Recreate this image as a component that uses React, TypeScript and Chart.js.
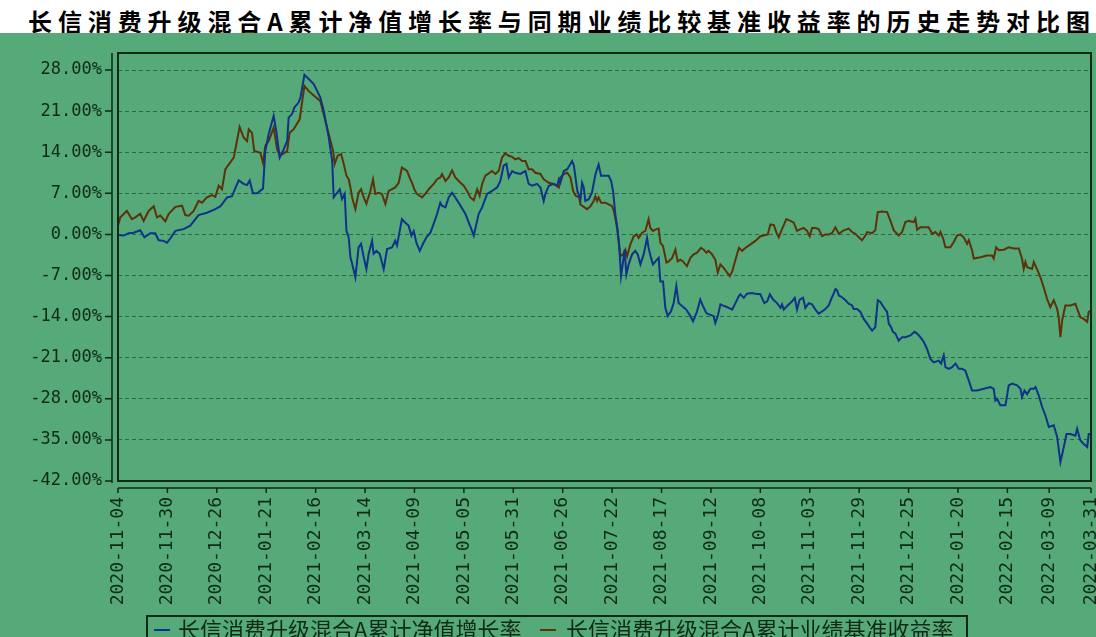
import React, { useEffect, useRef } from "react";
import { Chart, registerables } from "chart.js";

Chart.register(...registerables);

// ---------- text ----------
const chartTitle = "长信消费升级混合A累计净值增长率与同期业绩比较基准收益率的历史走势对比图";
const seriesNames = ["长信消费升级混合A累计净值增长率", "长信消费升级混合A累计业绩基准收益率"];

// ---------- axes ----------
const START_DATE = "2020-11-04";
const tickDates = [
  "2020-11-04", "2020-11-30", "2020-12-26", "2021-01-21", "2021-02-16", "2021-03-14",
  "2021-04-09", "2021-05-05", "2021-05-31", "2021-06-26", "2021-07-22", "2021-08-17",
  "2021-09-12", "2021-10-08", "2021-11-03", "2021-11-29", "2021-12-25", "2022-01-20",
  "2022-02-15", "2022-03-09", "2022-03-31",
];
const yTicks = [28, 21, 14, 7, 0, -7, -14, -21, -28, -35, -42];
const Y_MIN = -42;
const Y_MAX = 30.9;

// ---------- data (x = calendar days since START_DATE, y = %) ----------
const fundDays = [
  0, 3, 5.6, 8.2, 11.7, 13.9, 17, 19.6, 21.4, 24, 25.8, 27.5, 30.2, 34.5, 38, 42.4, 46.8, 51.2, 53.9, 57.4,
  60, 63.5, 66.1, 67.9, 69.3, 71, 73.2, 76.3, 77.5, 79.3, 81.9, 83.3, 85.1, 86.8, 89, 89.8, 91.6, 92.8, 95.1, 96,
  98.1, 103, 106.5, 108.3, 110.9, 112.7, 113.5, 115.3, 116.7, 117.9, 119.3, 120.2, 121.4, 122.3, 123.2, 124.9, 126.6, 127.9, 129.3, 130.7,
  131.9, 133.7, 134.5, 136, 137.7, 139.8, 141.6, 144.2, 145.9, 146.8, 149.4, 151.2, 152.9, 154.4, 155.6, 157, 158.8, 160.5, 162.3, 164.4,
  166.1, 167.9, 169.6, 170.5, 172.3, 174, 175.8, 177.5, 180.2, 182.8, 184.6, 186.3, 187.2, 188.6, 189.8, 191.6, 194.2, 196.8, 199.5, 201.2,
  202.9, 204.4, 205.6, 207.4, 209.1, 211.7, 214.4, 216.1, 217.9, 220.5, 222.3, 224, 224.9, 226.7, 229.3, 231.1, 232, 232.8, 234.6, 236.4,
  239, 239.9, 241.7, 243.4, 244.2, 245.1, 245.9, 247.7, 249.4, 251.2, 252.9, 254.2, 256.5, 258.2, 259.5, 260.5, 261.7, 263, 264, 264.7,
  265.8, 266.6, 267.5, 268.7, 270.5, 272.2, 273.5, 274.9, 276.6, 278.4, 279.2, 280.5, 281.5, 282.8, 284.5, 285.4, 286.8, 288, 289.3, 291,
  292.4, 293.8, 295, 296.8, 299, 300.8, 302.6, 304.7, 306.4, 307.8, 309.6, 311.7, 313.4, 314.3, 315.6, 317, 319.1, 321.4, 323.2, 324.9,
  326.7, 327.5, 329.3, 331, 333.6, 335.4, 338, 340.1, 341.6, 343, 344.7, 346.8, 348.6, 349.4, 350.3, 352.1, 354.7, 356.1, 357.3, 358.7,
  360.5, 361.7, 363.5, 365.2, 367, 368.7, 370.5, 372.2, 374, 375.7, 376.6, 377.5, 378.4, 379.3, 381, 382.8, 384.5, 386.3, 387.1, 388.9,
  390.7, 392.4, 394.2, 396.8, 398.5, 399.8, 401.2, 402.9, 404.7, 405.6, 406.8, 407.8, 409.1, 410.8, 412.6, 414.3, 417, 419.1, 420.5, 422.2,
  424, 425.7, 427.5, 429.2, 431.9, 433.1, 434.5, 435.4, 437.1, 438.9, 440.7, 442.4, 444.2, 445.9, 447.7, 449.4, 452, 455.6, 459.1, 460.8,
  461.7, 462.6, 464.3, 467, 468.7, 470.5, 473.1, 474.9, 475.7, 477, 478.4, 480.1, 481.9, 482.8, 484.5, 486.3, 488, 489.8, 492.4, 494.2,
  495.9, 497.7, 499.1, 501.2, 503.8, 504.7, 506.4, 508.2, 510, 510.8, 512,
];
const fundValues = [
  -0.1, -0.2, 0.2, 0.3, 0.7, -0.5, 0.2, 0.2, -1.0, -1.1, -1.4, -0.7, 0.6, 0.9, 1.5, 3.3, 3.7, 4.3, 4.8, 6.3,
  6.5, 9.2, 8.6, 8.4, 9.2, 7.0, 7.0, 7.8, 14.2, 17.1, 20.2, 17.6, 13.1, 14.2, 15.9, 19.9, 20.5, 21.6, 22.5, 23.3,
  27.2, 25.6, 23.3, 21.0, 16.5, 12.5, 6.3, 7.1, 7.7, 6.0, 6.9, 0.6, -0.5, -3.9, -5.0, -7.3, -2.2, -1.6, -3.9, -5.9,
  -3.3, -1.1, -3.3, -2.8, -3.3, -5.9, -2.5, -2.2, -1.1, -1.9, 2.6, 2.0, 1.5, -0.2, 0.6, -1.4, -2.8, -1.6, -0.5, 0.3,
  1.8, 3.5, 5.4, 4.9, 4.6, 6.3, 7.1, 6.3, 4.9, 3.5, 2.0, 0.6, -0.2, 1.8, 3.5, 4.6, 6.9, 7.4, 8.0, 9.1,
  11.7, 12.0, 9.7, 10.8, 10.5, 10.3, 10.8, 8.6, 8.3, 8.6, 8.0, 5.7, 6.9, 8.3, 8.6, 8.3, 9.4, 8.8, 10.8, 11.1,
  12.5, 11.7, 7.4, 6.0, 8.8, 8.0, 5.7, 6.0, 7.1, 10.2, 11.9, 10.0, 10.0, 10.0, 9.1, 7.4, 3.4, 0.6, -3.4, -7.1,
  -4.6, -2.6, -6.8, -5.1, -3.4, -2.8, -3.4, -5.1, -3.4, -0.6, -2.3, -4.0, -5.1, -4.6, -4.0, -8.0, -8.0, -12.5, -13.9, -13.1,
  -11.7, -8.8, -11.7, -12.2, -12.8, -13.7, -14.8, -13.1, -11.1, -12.2, -13.4, -13.7, -13.9, -15.1, -13.9, -11.9, -12.2, -12.5, -12.8, -11.7,
  -10.5, -10.2, -10.8, -10.1, -10.0, -10.1, -10.2, -11.7, -11.4, -10.2, -11.1, -11.7, -12.5, -11.9, -12.8, -12.2, -11.4, -10.8, -12.8, -11.1,
  -10.8, -12.5, -11.7, -11.9, -12.8, -13.5, -13.1, -12.7, -12.1, -10.7, -10.1, -9.3, -9.5, -10.4, -10.7, -11.2, -11.8, -12.1, -12.7, -12.7,
  -13.2, -14.4, -15.2, -16.4, -15.8, -11.2, -11.5, -12.4, -13.2, -15.2, -15.8, -16.6, -16.9, -18.1, -17.5, -17.5, -17.2, -16.6, -16.9, -17.5,
  -18.3, -19.5, -21.2, -21.8, -21.5, -22.0, -20.6, -22.6, -22.9, -22.6, -22.0, -22.9, -22.9, -23.2, -24.9, -26.6, -26.6, -26.3, -26.0, -26.3,
  -28.3, -28.0, -29.1, -29.1, -25.7, -25.4, -25.7, -26.3, -27.7, -26.6, -27.2, -26.3, -26.3, -26.0, -27.4, -29.4, -30.8, -32.8, -32.5, -34.5,
  -38.8, -36.2, -34.0, -34.0, -34.3, -33.1, -35.1, -35.7, -36.2, -34.0, -34.0,
];

const benchDays = [
  0, 1.2, 4.7, 7.3, 9.1, 11.7, 13.5, 16.1, 18.8, 20.5, 22.3, 24.9, 26.7, 30.2, 33.7, 35.4, 37.2, 39.8, 42.4, 44.2,
  46.8, 49.5, 51.2, 53, 54.7, 56.5, 60.9, 64, 66.1, 67.9, 68.8, 70.5, 71.7, 74.9, 76.3, 77.5, 79.3, 81.9, 83.7, 85.1,
  89, 90.3, 92.4, 95.6, 98.1, 100.4, 106.5, 110, 113.2, 114, 115.6, 117.4, 118.8, 120.2, 121.4, 122.3, 123.2, 124.9, 126.6, 127.9,
  129.3, 130.7, 132.8, 134.2, 135.4, 137.2, 138.9, 140.7, 142.4, 145.9, 147.7, 149.4, 152.1, 153.8, 154.7, 155.9, 157.3, 160, 161.7, 163.5,
  166.1, 167.9, 169.6, 170.5, 172.3, 174, 175.8, 177.5, 180.2, 181.9, 183.7, 185.4, 187.2, 189, 190.3, 191.6, 193.3, 195.1, 196.8, 198.6,
  200.3, 202.1, 203.8, 205.6, 207.4, 209.1, 210.9, 212.6, 214.4, 216.1, 217.9, 219.6, 222.3, 224, 226.7, 229.3, 232, 232.8, 234.6, 236.4,
  238.1, 239.5, 240.8, 242.6, 243.3, 245.1, 246.8, 248.6, 250.3, 251.2, 252.1, 252.9, 254.2, 256.5, 258.2, 260, 260.9, 262.3, 263.5, 264.4,
  265.8, 267, 267.9, 269.6, 271.4, 272.8, 274, 275.8, 277.5, 279.2, 280.1, 281.5, 283.3, 284.5, 285.4, 286.8, 288.6, 289.8, 291.6, 293.3,
  294.5, 295.9, 297.3, 299.4, 301.2, 302.9, 304.7, 306.8, 308.2, 309.6, 310.8, 312.6, 314.3, 315.6, 317, 318.7, 320.5, 321.9, 323.2, 324.9,
  326.7, 328.4, 330.1, 332.8, 335.4, 338, 340.7, 341.9, 343.3, 345.1, 346.5, 347.7, 349.4, 351.7, 353.8, 355.6, 357.3, 359.1, 360.8, 362.6,
  364, 365.2, 367, 368.7, 370.5, 372.2, 374, 375.7, 377.5, 379.3, 381.9, 384.5, 386.3, 388, 389.8, 391.5, 393.3, 394.2, 396.8, 398.5,
  399.8, 402.1, 404.7, 406.4, 408.2, 410.8, 412.6, 414.3, 416.1, 418.7, 419.6, 420.5, 422.2, 426.6, 428.4, 430.1, 431.9, 432.8, 434.2, 435.4,
  438, 439.8, 441.5, 443.3, 445, 446.8, 447.7, 449.4, 450.3, 453.8, 457.3, 459.9, 460.8, 462.1, 463.5, 466.1, 468.7, 471.4, 474, 475.7,
  476.6, 477.5, 478.4, 481, 481.9, 483.6, 485.4, 487.1, 488.9, 490.6, 492.4, 494.2, 495, 495.9, 496.8, 498.5, 501.2, 503.8, 504.7, 506.4,
  508.2, 510, 510.8, 512,
];
const benchValues = [
  1.5, 2.9, 4.0, 2.6, 2.9, 3.5, 2.3, 4.0, 4.8, 2.9, 3.2, 2.2, 3.5, 4.7, 4.9, 3.3, 3.2, 4.0, 5.7, 5.4,
  6.3, 6.7, 6.4, 8.3, 7.7, 11.1, 13.1, 18.3, 16.5, 15.9, 17.9, 17.3, 14.2, 13.9, 12.2, 15.1, 15.9, 18.2, 14.5, 13.4,
  14.2, 17.3, 17.9, 19.6, 25.3, 24.4, 22.7, 18.2, 14.2, 12.0, 13.4, 13.7, 12.0, 10.0, 9.4, 8.0, 6.3, 4.3, 7.1, 7.7,
  6.3, 5.2, 7.4, 9.4, 6.9, 7.1, 6.9, 5.2, 7.4, 8.0, 8.8, 11.4, 10.8, 9.4, 8.8, 7.7, 6.9, 6.3, 6.9, 7.7,
  8.6, 9.4, 9.7, 10.3, 9.1, 9.7, 10.9, 9.7, 8.8, 8.3, 7.4, 6.3, 5.8, 7.7, 6.6, 8.6, 10.0, 10.4, 10.8, 10.3,
  10.8, 13.1, 13.8, 13.4, 13.2, 12.8, 13.0, 12.5, 12.5, 11.1, 11.1, 10.5, 10.3, 9.4, 8.8, 8.6, 8.0, 9.7, 10.3, 10.5,
  9.7, 7.4, 6.6, 6.3, 5.1, 4.7, 4.3, 4.8, 5.7, 6.5, 5.7, 6.3, 5.4, 5.4, 5.1, 4.8, 4.0, 1.7, -1.1, -3.7,
  -3.4, -2.6, -3.7, -1.7, -0.3, 0, -0.6, 0.3, 0.6, 2.6, 1.1, 0.6, 0.9, 1.0, -1.4, -2.0, -4.8, -4.6, -4.0, -2.6,
  -4.6, -4.3, -4.6, -5.4, -4.0, -3.4, -3.1, -2.3, -2.6, -3.1, -2.8, -3.4, -4.3, -6.5, -5.1, -5.7, -6.5, -7.1, -6.3, -4.3,
  -2.3, -2.8, -2.3, -1.7, -1.1, -0.3, -0.1, 0, 1.7, 1.6, 0.3, -0.5, 0.9, 2.6, 2.3, 2.0, 0.6, 0.9, 1.1, 0.6,
  -0.3, 1.1, 1.1, 0.9, -0.3, 0, 0, 0.2, 1.2, 0.1, 0.7, 1.0, 0.4, 0.1, -0.5, -1.0, -0.2, 0.4, 0.2, 0.7,
  3.8, 3.9, 3.8, 2.4, 0.7, -0.2, 0.4, 2.1, 2.3, 2.1, 2.7, 0.8, 1.2, 1.2, 0.1, 0.4, -0.2, 0.4, -0.7, -2.2,
  -2.2, -1.3, -0.2, 0, -0.5, -1.6, -1.0, -2.7, -4.1, -3.9, -3.6, -3.6, -4.1, -2.2, -2.7, -2.6, -2.2, -2.4, -2.4, -4.1,
  -5.9, -4.7, -5.6, -5.9, -4.7, -5.9, -7.3, -9.0, -11.0, -12.4, -11.2, -12.7, -14.1, -17.5, -14.7, -12.1, -12.1, -11.8, -12.7, -14.1,
  -14.4, -14.9, -13.2, -13.0,
];

// ---------- style ----------
const GREEN = "#56aa79";
const INK = "#0e2a16";
const GRID = "#2c6a42";
const FUND_COLOR = "#0f3388";
const BENCH_COLOR = "#5e3208";
const TICK_FONT = "'DejaVu Sans Mono', 'Liberation Mono', monospace";
const CJK_FONT = "'Noto Sans CJK SC', 'Noto Sans', sans-serif";

const dayOf = (d: string) =>
  Math.round((Date.parse(d + "T00:00:00Z") - Date.parse(START_DATE + "T00:00:00Z")) / 86400000);

const toPoints = (xs: number[], ys: number[]) => xs.map((x, i) => ({ x, y: ys[i] }));

const framePlugin = {
  id: "frame",
  afterDatasetsDraw(chart: any) {
    const { ctx, chartArea: a, scales } = chart;
    ctx.save();
    ctx.strokeStyle = INK;
    ctx.lineWidth = 2;
    ctx.strokeRect(a.left, a.top, a.right - a.left, a.bottom - a.top);
    ctx.lineWidth = 1.5;
    const ax = a.left - 6;
    const ay = a.bottom + 7;
    ctx.beginPath();
    ctx.moveTo(ax, a.top);
    ctx.lineTo(ax, a.bottom + 2);
    ctx.moveTo(a.left, ay);
    ctx.lineTo(a.right, ay);
    scales.y.ticks.forEach((t: any) => {
      const y = scales.y.getPixelForValue(t.value);
      ctx.moveTo(ax - 7, y);
      ctx.lineTo(ax, y);
    });
    scales.x.ticks.forEach((t: any) => {
      const x = scales.x.getPixelForValue(t.value);
      ctx.moveTo(x, ay);
      ctx.lineTo(x, ay + 5);
    });
    ctx.stroke();
    ctx.restore();
  },
};

export default function App() {
  const ref = useRef<HTMLCanvasElement | null>(null);

  useEffect(() => {
    if (!ref.current) return;
    const chart = new Chart(ref.current, {
      type: "line",
      data: {
        datasets: [
          {
            label: seriesNames[0],
            data: toPoints(fundDays, fundValues),
            borderColor: FUND_COLOR,
            borderWidth: 2,
            pointRadius: 0,
            tension: 0,
          },
          {
            label: seriesNames[1],
            data: toPoints(benchDays, benchValues),
            borderColor: BENCH_COLOR,
            borderWidth: 2,
            pointRadius: 0,
            tension: 0,
          },
        ],
      },
      options: {
        animation: false,
        responsive: false,
        events: [],
        layout: { padding: { top: 20, right: 5, left: 0, bottom: 0 } },
        plugins: {
          legend: { display: false },
          title: { display: false },
          tooltip: { enabled: false },
        },
        scales: {
          x: {
            type: "linear",
            min: 0,
            max: dayOf(tickDates[tickDates.length - 1]),
            afterBuildTicks: (s: any) => {
              s.ticks = tickDates.map((d) => ({ value: dayOf(d) }));
            },
            afterFit: (s: any) => {
              s.height = 156;
              s.paddingLeft = 0;
              s.paddingRight = 0;
            },
            grid: { display: false, drawTicks: false },
            border: { display: false },
            ticks: {
              autoSkip: false,
              maxRotation: 90,
              minRotation: 90,
              padding: 16,
              color: INK,
              font: { family: TICK_FONT, size: 18 },
              callback: (_v: any, i: number) => tickDates[i],
            },
          },
          y: {
            min: Y_MIN,
            max: Y_MAX,
            afterBuildTicks: (s: any) => {
              s.ticks = yTicks.map((v) => ({ value: v }));
            },
            afterFit: (s: any) => {
              s.width = 118;
              s.paddingTop = 0;
              s.paddingBottom = 0;
            },
            grid: { color: GRID, lineWidth: 1, drawTicks: false },
            border: { display: false, dash: [4, 3] },
            ticks: {
              padding: 16,
              color: INK,
              font: { family: TICK_FONT, size: 17 },
              callback: (v: any) => Number(v).toFixed(2) + "%",
            },
          },
        },
      },
      plugins: [framePlugin],
    });
    return () => chart.destroy();
  }, []);

  const marker = (color: string, left: number) => (
    <span
      style={{
        position: "absolute",
        left,
        top: 12,
        width: 16,
        height: 2,
        background: color,
      }}
    />
  );

  return (
    <div
      style={{
        position: "fixed",
        left: 0,
        top: 0,
        width: 1096,
        height: 637,
        background: "#ffffff",
        overflow: "hidden",
      }}
    >
      <div
        style={{
          position: "absolute",
          left: 28,
          top: 8,
          whiteSpace: "nowrap",
          fontFamily: CJK_FONT,
          fontWeight: 700,
          fontSize: 24,
          lineHeight: "26px",
          letterSpacing: "5.9px",
          color: "#000",
        }}
      >
        {chartTitle}
      </div>
      <div
        style={{
          position: "absolute",
          left: 0,
          top: 33,
          width: 1096,
          height: 604,
          background: GREEN,
        }}
      >
        <canvas ref={ref} width={1096} height={604} style={{ display: "block" }} />
        <div
          style={{
            position: "absolute",
            left: 146,
            top: 582,
            width: 822,
            height: 40,
            border: `2px solid ${INK}`,
            boxSizing: "border-box",
            fontFamily: CJK_FONT,
            fontSize: 22,
            color: INK,
            whiteSpace: "nowrap",
          }}
        >
          {marker(FUND_COLOR, 6)}
          <span style={{ position: "absolute", left: 30, top: -2, lineHeight: "26px" }}>{seriesNames[0]}</span>
          {marker(BENCH_COLOR, 392)}
          <span style={{ position: "absolute", left: 418, top: -2, lineHeight: "26px" }}>{seriesNames[1]}</span>
        </div>
      </div>
    </div>
  );
}
